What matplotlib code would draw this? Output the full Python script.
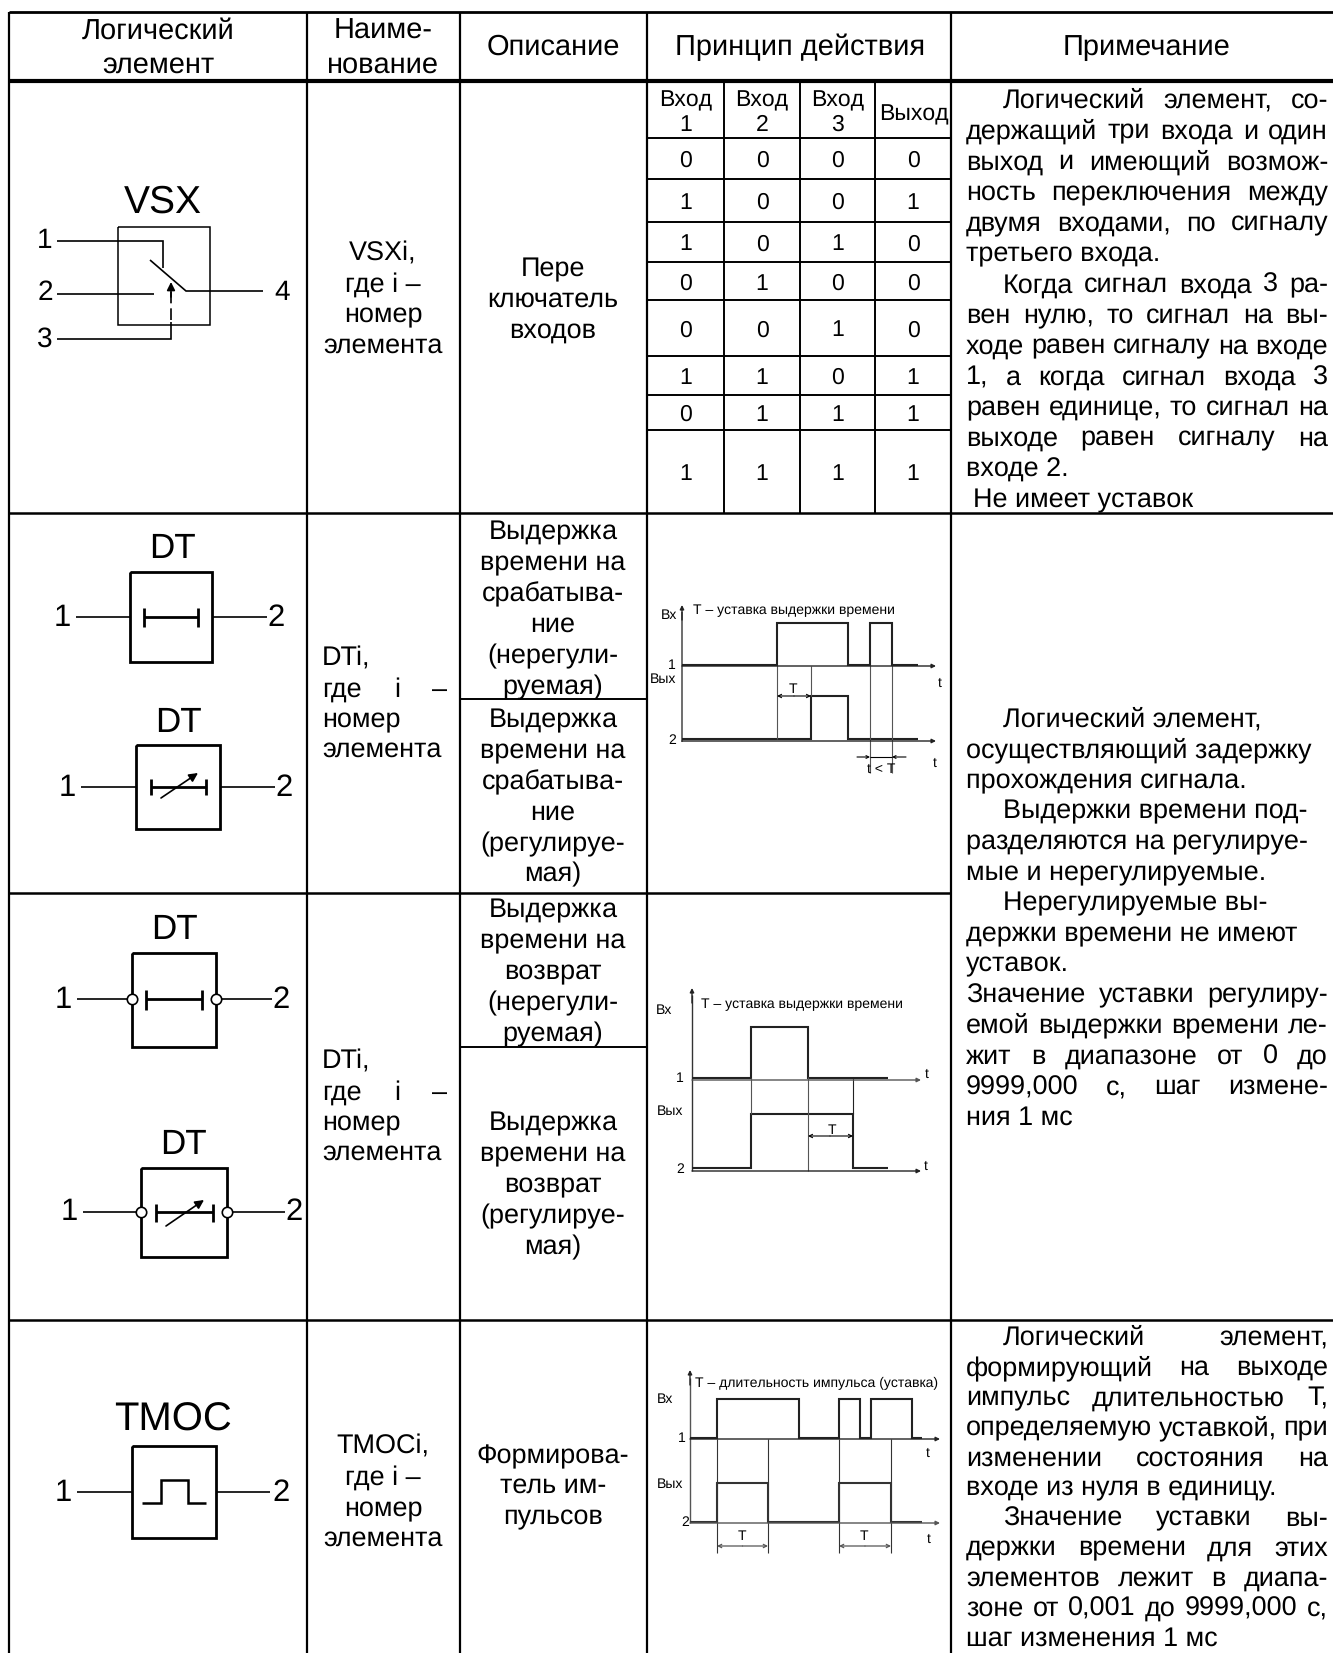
import matplotlib
matplotlib.use("Agg")
import matplotlib.pyplot as plt

plt.rcParams['font.family'] = ['Liberation Sans', 'DejaVu Sans']
plt.rcParams['text.hinting'] = 'no_hinting'
plt.rcParams['text.hinting_factor'] = 1

# table grid
col_x = [9, 307, 460, 647, 951, 1333]
row_y = [12, 81, 513, 893, 1320, 1653]
truth_x = [647, 724, 800, 875, 951]
truth_y = [81, 138, 179, 222, 262, 300, 356, 395, 430, 513]

truth_head = [['Вход', '1'], ['Вход', '2'], ['Вход', '3'], ['Выход']]
truth_rows = [
    [0, 0, 0, 0],
    [1, 0, 0, 1],
    [1, 0, 1, 0],
    [0, 1, 0, 0],
    [0, 0, 1, 0],
    [1, 1, 0, 1],
    [0, 1, 1, 1],
    [1, 1, 1, 1],
]

# header text: (text, x centre, baseline)
header_lines = [
    ('Логический', 158, 39), ('элемент', 158, 73),
    ('Наиме-', 383, 39), ('нование', 383, 73),
    ('Описание', 553, 55), ('Принцип действия', 800, 55),
    ('Примечание', 1147, 55),
]

# centred cell text
name_vsx = ['VSXi,', 'где i –', 'номер', 'элемента']
name_vsx_y = [261, 292, 322, 353]
name_tmoc = ['TMOCi,', 'где i –', 'номер', 'элемента']
name_tmoc_y = [1454, 1485, 1516, 1546]

desc_lines = ['Пере', 'ключатель', 'входов',
              'Выдержка', 'времени на', 'срабатыва-', 'ние', '(нерегули-', 'руемая)',
              'Выдержка', 'времени на', 'срабатыва-', 'ние', '(регулируе-', 'мая)',
              'Выдержка', 'времени на', 'возврат', '(нерегули-', 'руемая)',
              'Выдержка', 'времени на', 'возврат', '(регулируе-', 'мая)',
              'Формирова-', 'тель им-', 'пульсов']
desc_y = [276, 307, 338,
          539, 570, 601, 632, 663, 694,
          727, 758, 789, 820, 851, 881,
          917, 948, 979, 1010, 1041,
          1130, 1161, 1192, 1223, 1254,
          1463, 1493, 1524]

# notes: (text, indent, justified)
notes_vsx = [
    ('Логический элемент, со-', 1, 1), ('держащий три входа и один', 0, 1),
    ('выход и имеющий возмож-', 0, 1), ('ность переключения между', 0, 1),
    ('двумя входами, по сигналу', 0, 1), ('третьего входа.', 0, 0),
    ('Когда сигнал входа 3 ра-', 1, 1), ('вен нулю, то сигнал на вы-', 0, 1),
    ('ходе равен сигналу на входе', 0, 1), ('1, а когда сигнал входа 3', 0, 1),
    ('равен единице, то сигнал на', 0, 1), ('выходе равен сигналу на', 0, 1),
    ('входе 2.', 0, 0),
]
notes_dt = [
    ('Логический элемент,', 1, 0), ('осуществляющий задержку', 0, 0),
    ('прохождения сигнала.', 0, 0), ('Выдержки времени под-', 1, 0),
    ('разделяются на регулируе-', 0, 0), ('мые и нерегулируемые.', 0, 0),
    ('Нерегулируемые вы-', 1, 0), ('держки времени не имеют', 0, 0),
    ('уставок.', 0, 0), ('Значение уставки регулиру-', 0, 1),
    ('емой выдержки времени ле-', 0, 1), ('жит в диапазоне от 0 до', 0, 1),
    ('9999,000 с, шаг измене-', 0, 1), ('ния 1 мс', 0, 0),
]
notes_tmoc = [
    ('Логический элемент,', 1, 1), ('формирующий на выходе', 0, 1),
    ('импульс длительностью Т,', 0, 1), ('определяемую уставкой, при', 0, 1),
    ('изменении состояния на', 0, 1), ('входе из нуля в единицу.', 0, 0),
    ('Значение уставки вы-', 1, 1), ('держки времени для этих', 0, 1),
    ('элементов лежит в диапа-', 0, 1), ('зоне от 0,001 до 9999,000 с,', 0, 1),
    ('шаг изменения 1 мс', 0, 0),
]

# timing diagrams, edges of each signal along x
relay_in = [777, 848, 870, 892]
relay_out = [811, 848]
reset_in = [751, 808]
reset_out = [751, 853]
pulse_in = [717, 799, 839, 860, 871, 912]
pulse_out = [717, 768, 839, 891]

FS = 19.6
HEAD_FS = 20.8

fig = plt.figure(figsize=(13.33, 16.53), dpi=100)
ax = fig.add_axes([0, 0, 1, 1])
ax.set_xlim(0, 1333)
ax.set_ylim(1653, 0)
ax.axis('off')


def line(xs, ys, lw=1.5, color='black', **kw):
    kw.setdefault('solid_capstyle', 'butt')
    kw.setdefault('solid_joinstyle', 'miter')
    ax.plot(xs, ys, color=color, lw=lw, **kw)


def label(x, y, s, fs=FS, ha='center', color='black'):
    return ax.text(x, y, s, fontsize=fs, ha=ha, va='baseline', color=color)


def arrow(x0, y0, x1, y1, style='-|>', lw=1.0, color='black', ms=7):
    ax.annotate('', xy=(x1, y1), xytext=(x0, y0),
                arrowprops=dict(arrowstyle=style, lw=lw, color=color,
                                shrinkA=0, shrinkB=0, mutation_scale=ms))


def text_width(s, fs=FS):
    t = ax.text(0, 0, s, fontsize=fs)
    w = t.get_window_extent(fig.canvas.get_renderer()).width
    t.remove()
    return w


def justified(s, left, right, y, fs=FS):
    words = s.split()
    widths = [text_width(w, fs) for w in words]
    gap = (right - left - sum(widths)) / (len(words) - 1)
    x = left
    for w, wd in zip(words, widths):
        label(x, y, w, fs, ha='left')
        x += wd + gap


def notes(lines, first_y, pitch, left=966, right=1328, indent=37):
    for i, (s, ind, just) in enumerate(lines):
        y = first_y + i * pitch
        x0 = left + indent * ind
        if just:
            justified(s, x0, right, y)
        else:
            label(x0, y, s, ha='left')


def signal(x_start, x_end, low, high, edges, lw=1.5, color='#222222'):
    xs = [x_start]
    ys = [low]
    level = low
    for e in edges:
        xs += [e, e]
        other = high if level == low else low
        ys += [level, other]
        level = other
    xs.append(x_end)
    ys.append(level)
    line(xs, ys, lw=lw, color=color)


def block(x0, x1, y0, y1, lw=2.0):
    line([x0, x1, x1, x0, x0], [y0, y0, y1, y1, y0], lw=lw)


def dt_symbol(name, cx_text, y_text, box, y_mid, x_in, x_out, x1_lab, x2_lab,
              bar, tick, adj=None, inverted=False):
    label(cx_text, y_text, name, 25)
    block(box[0], box[1], box[2], box[3])
    line([x_in, box[0]], [y_mid, y_mid], lw=1.2)
    line([box[1], x_out], [y_mid, y_mid], lw=1.2)
    label(x1_lab, y_mid + 8.5, '1', 22)
    label(x2_lab, y_mid + 8.5, '2', 22)
    line(bar, [y_mid, y_mid], lw=2.0)
    line([bar[0], bar[0]], tick, lw=2.0)
    line([bar[1], bar[1]], tick, lw=2.0)
    if adj:
        arrow(adj[0], adj[1], adj[2], adj[3], lw=1.2, ms=13)
    if inverted:
        for x in box[:2]:
            ax.plot([x], [y_mid], 'o', ms=7.5, mfc='white', mec='black', mew=1.2, zorder=5)


# ---- grid ----
line([col_x[0], col_x[-1]], [row_y[0], row_y[0]], lw=2.0)
line([col_x[0], col_x[-1]], [row_y[1], row_y[1]], lw=3.0)
line([col_x[0], col_x[-1]], [row_y[2], row_y[2]], lw=1.8)
line([col_x[0], col_x[4]], [row_y[3], row_y[3]], lw=1.8)
line([col_x[0], col_x[-1]], [row_y[4], row_y[4]], lw=1.8)
for x in col_x[:-1]:
    line([x, x], [row_y[0], row_y[-1]], lw=1.6)

# split description cells
line([col_x[2], col_x[3]], [699, 699], lw=1.4)
line([col_x[2], col_x[3]], [1047, 1047], lw=1.4)

# truth table
for x in truth_x[1:-1]:
    line([x, x], [truth_y[0], truth_y[-1]], lw=1.4)
for y in truth_y[1:-1]:
    line([truth_x[0], truth_x[-1]], [y, y], lw=1.4)
for j, head in enumerate(truth_head):
    cx = (truth_x[j] + truth_x[j + 1]) / 2
    if len(head) == 2:
        label(cx, 106, head[0], 16.8)
        label(cx, 131, head[1], 16.8)
    else:
        label(cx + 0.5, 120, head[0], 16.8)
for i, row in enumerate(truth_rows):
    yc = (truth_y[i + 1] + truth_y[i + 2]) / 2
    for j, v in enumerate(row):
        cx = (truth_x[j] + truth_x[j + 1]) / 2
        label(cx, yc + 8.5, str(v), 16.8)

# ---- header and cell text ----
for s, x, y in header_lines:
    label(x, y, s, HEAD_FS)
for s, y in zip(name_vsx, name_vsx_y):
    label(383, y, s)
for s, y in zip(name_tmoc, name_tmoc_y):
    label(383, y, s)
for s, y in zip(desc_lines, desc_y):
    label(553, y, s, 19.2)

for base in (666, 1069):
    label(322, base, 'DTi,', ha='left')
    justified('где i –', 322, 447, base + 31)
    label(322, base + 61, 'номер', ha='left')
    label(322, base + 91, 'элемента', ha='left')

notes(notes_vsx, 108, 30.7)
label(973, 507, 'Не имеет уставок', ha='left')
notes(notes_dt, 727, 30.6)
notes(notes_tmoc, 1345, 30.1)

# ---- VSX symbol ----
label(163, 213, 'VSX', 28)
block(118, 210, 227, 325, lw=1.1)
line([57, 163, 163], [241, 241, 268], lw=1.2)
line([57, 154], [294, 294], lw=1.2)
line([150, 186, 263], [260, 291, 291], lw=1.2)
line([57, 171, 171], [339, 339, 322], lw=1.2)
line([171, 171], [320, 292], lw=1.2, linestyle=(0, (7, 3)))
arrow(171, 297, 171, 282, lw=1.2, ms=12)
label(45, 248, '1', 20)
label(45, 300, '2', 20)
label(45, 347, '3', 20)
label(282, 300, '4', 20)

# ---- DT symbols ----
dt_symbol('DT', 172, 558, (130, 212, 572, 662), 617, 76, 267, 62, 276,
          [144, 198], [608, 627])
dt_symbol('DT', 178, 732, (136, 220, 745, 829), 787, 81, 275, 67, 284,
          [151, 206], [779, 795], adj=(161, 798, 198, 773))
dt_symbol('DT', 174, 939, (132, 216, 953, 1047), 999, 77, 272, 63, 281,
          [146, 202], [990, 1010], inverted=True)
dt_symbol('DT', 183, 1154, (141, 227, 1168, 1257), 1212, 83, 285, 69, 294,
          [156, 213], [1204, 1222], adj=(166, 1226, 204, 1200), inverted=True)

# ---- TMOC symbol ----
label(173, 1431, 'TMOC', 29)
block(132, 216, 1446, 1538)
line([77, 132], [1492, 1492], lw=1.2)
line([216, 270], [1492, 1492], lw=1.2)
label(63, 1501, '1', 22)
label(281, 1501, '2', 22)
line([142, 161, 161, 188, 188, 206], [1503, 1503, 1480, 1480, 1503, 1503], lw=1.8)

# ---- timing diagram: delay on ----
GR = '#555555'
TS = 10.2
line([682, 682], [742, 612], lw=1.2, color=GR)
arrow(682, 620, 682, 605, ms=6, color='#222222')
arrow(682, 666, 936, 666, ms=6, color='#222222')
arrow(682, 741, 936, 741, ms=6, color='#222222')
signal(682, 918, 665, 623, relay_in)
signal(682, 918, 739, 696, relay_out)
for x, y0, y1 in [(777, 665, 739), (811, 666, 696), (870, 665, 773), (892, 665, 773)]:
    line([x, x], [y0, y1], lw=0.8, color=GR)
arrow(794, 696, 777, 696, '->', lw=0.8, ms=6)
arrow(794, 696, 811, 696, '->', lw=0.8, ms=6)
label(793, 693, 'T', TS)
arrow(857, 757, 870, 757, '->', lw=0.8, ms=5)
arrow(906, 757, 892, 757, '->', lw=0.8, ms=5)
line([870, 892], [757, 757], lw=0.8)
label(881, 773, 't < T', TS)
label(677, 619, 'Вх', TS, ha='right')
label(676, 669, '1', TS, ha='right')
label(676, 683, 'Вых', TS, ha='right')
label(676, 744, '2', TS, ha='right')
label(693, 614, 'T – уставка выдержки времени', TS, ha='left')
label(940, 687, 't', TS)
label(935, 767, 't', TS)

# ---- timing diagram: delay off ----
line([692, 692], [1171, 995], lw=1.0, color='#333333')
arrow(692, 1003, 692, 988, ms=6, color='#222222')
arrow(692, 1080, 921, 1080, ms=6, color=GR)
arrow(692, 1171, 921, 1171, ms=6, color='#222222')
signal(692, 888, 1078, 1027, reset_in)
signal(692, 888, 1168, 1114, reset_out)
for x, y0, y1, c in [(751, 1078, 1114, GR), (808, 1077, 1171, GR), (853, 1077, 1114, '#222222')]:
    line([x, x], [y0, y1], lw=0.8, color=c)
arrow(830, 1136, 808, 1136, '->', lw=0.8, ms=6)
arrow(830, 1136, 853, 1136, '->', lw=0.8, ms=6)
label(832, 1134, 'T', TS)
label(656, 1014, 'Вх', TS, ha='left')
label(684, 1082, '1', TS, ha='right')
label(657, 1115, 'Вых', TS, ha='left')
label(684, 1173, '2', TS, ha='right')
label(701, 1008, 'T – уставка выдержки времени', TS, ha='left')
label(927, 1078, 't', TS)
label(926, 1170, 't', TS)

# ---- timing diagram: pulse former ----
line([690, 690], [1523, 1378], lw=1.0, color=GR)
arrow(690, 1385, 690, 1370, ms=6, color='#222222')
arrow(690, 1439, 940, 1439, ms=6, color='#222222')
arrow(690, 1523, 940, 1523, ms=6, color=GR)
signal(690, 922, 1438, 1399, pulse_in)
signal(690, 922, 1522, 1483, pulse_out, color='#333333')
for x in pulse_out:
    line([x, x], [1439, 1553], lw=0.8, color='#333333')
for x0, x1, xt in [(717, 768, 742), (839, 891, 864)]:
    mid = (x0 + x1) / 2
    arrow(mid, 1546, x0, 1546, '->', lw=0.9, color=GR, ms=6)
    arrow(mid, 1546, x1, 1546, '->', lw=0.9, color=GR, ms=6)
    label(xt, 1540, 'T', TS)
label(657, 1403, 'Вх', TS, ha='left')
label(686, 1442, '1', TS, ha='right')
label(657, 1488, 'Вых', TS, ha='left')
label(689, 1526, '2', TS, ha='right')
label(695, 1387, 'T – длительность импульса (уставка)', TS, ha='left')
label(928, 1457, 't', TS)
label(929, 1543, 't', TS)

plt.savefig('out.png', dpi=100)
